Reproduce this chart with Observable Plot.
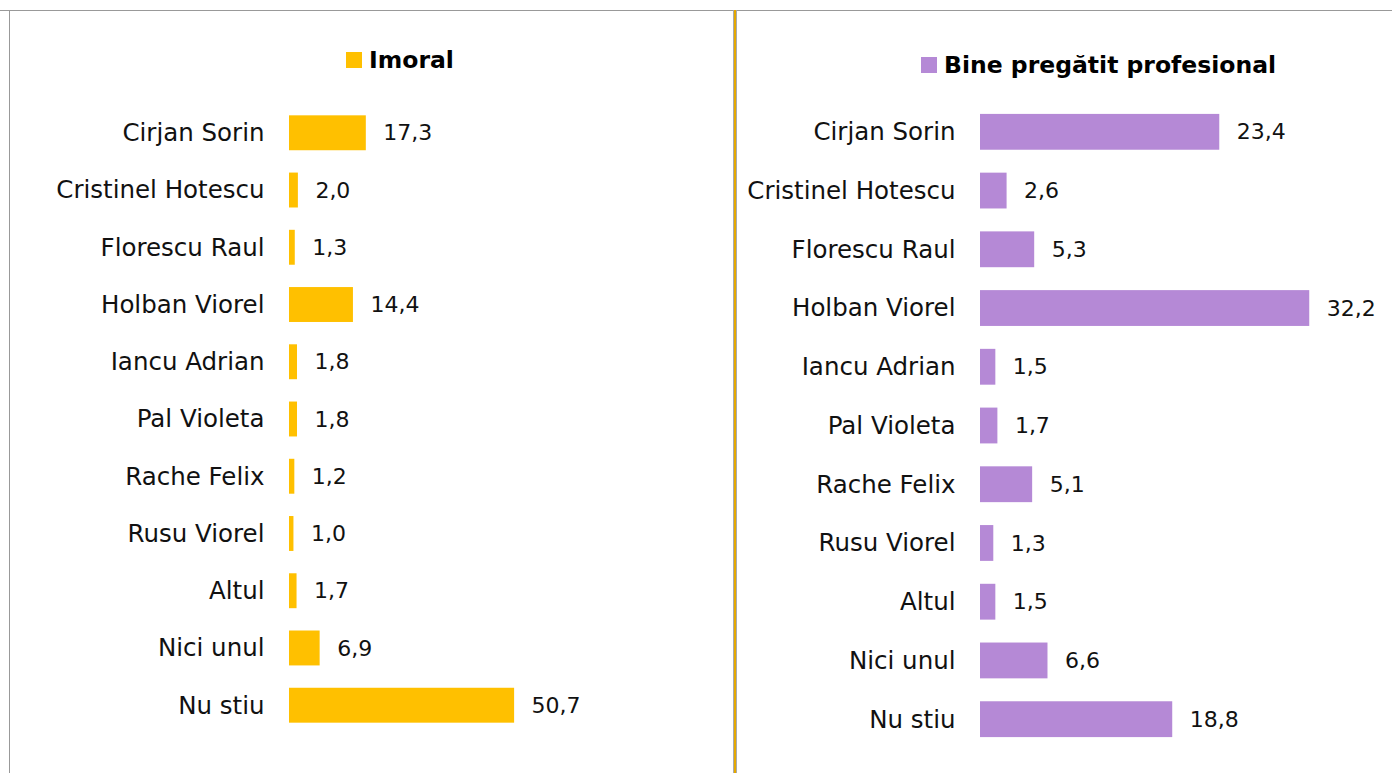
<!DOCTYPE html>
<html>
<head>
<meta charset="utf-8">
<script src="https://cdn.jsdelivr.net/npm/d3@7"></script>
<script src="https://cdn.jsdelivr.net/npm/@observablehq/plot@0.6"></script>
<style>
  html, body { margin: 0; padding: 0; background: #fff; }
  body { width: 1392px; height: 773px; position: relative; overflow: hidden; font-family: "DejaVu Sans", sans-serif; }
  .abs { position: absolute; }
  .legend { position: absolute; display: flex; align-items: center; font-weight: bold; font-size: 23.5px; color: #000; white-space: nowrap; }
  .legend .sw { width: 16px; height: 16px; margin-right: 7px; }
</style>
</head>
<body>
<div class="abs" style="left:0;top:10px;width:1392px;height:1px;background:#999"></div>
<div class="abs" style="left:9px;top:10px;width:1px;height:763px;background:#999"></div>
<div class="abs" style="left:733px;top:10px;width:1px;height:763px;background:#aaa"></div>
<div class="abs" style="left:734px;top:10px;width:2px;height:763px;background:#E5A800"></div>
<div class="abs" style="left:736px;top:10px;width:1px;height:763px;background:#aaa"></div>
<div id="left" class="abs" style="left:10px;top:11px"></div>
<div id="right" class="abs" style="left:738px;top:11px"></div>
<div class="legend" style="left:346px;top:45px;height:30px"><div class="sw" style="background:#FFC000"></div>Imoral</div>
<div class="legend" style="left:921px;top:50px;height:30px"><div class="sw" style="background:#B589D6"></div>Bine pregătit profesional</div>
<script>
const categories = ["Cirjan Sorin","Cristinel Hotescu","Florescu Raul","Holban Viorel","Iancu Adrian","Pal Violeta","Rache Felix","Rusu Viorel","Altul","Nici unul","Nu stiu"];
const imoral = [17.3, 2.0, 1.3, 14.4, 1.8, 1.8, 1.2, 1.0, 1.7, 6.9, 50.7];
const pregatit = [23.4, 2.6, 5.3, 32.2, 1.5, 1.7, 5.1, 1.3, 1.5, 6.6, 18.8];

const fmt = v => v.toFixed(1).replace(".", ",");

function chart(values, color, opts) {
  const data = categories.map((c, i) => ({cat: c, v: values[i]}));
  return Plot.plot({
    width: opts.width,
    height: opts.height,
    marginLeft: opts.marginLeft,
    marginRight: opts.marginRight,
    marginTop: opts.marginTop,
    marginBottom: opts.marginBottom,
    style: {fontFamily: "'DejaVu Sans', sans-serif", fontSize: "24.5px", color: "#111", background: "transparent"},
    x: {domain: [0, opts.xmax], axis: null},
    y: {domain: categories, padding: 0.39, round: false, label: null, tickSize: 0, tickPadding: 25},
    marks: [
      Plot.barX(data, {x: "v", y: "cat", fill: color}),
      Plot.text(data, {x: "v", y: "cat", text: d => fmt(d.v), textAnchor: "start", dx: 17, fill: "#111", fontSize: 22})
    ]
  });
}

document.getElementById("left").appendChild(chart(imoral, "#FFC000", {width: 723, height: 762, marginLeft: 279, marginRight: 0, marginTop: 82, marginBottom: 28, xmax: 100}));
document.getElementById("right").appendChild(chart(pregatit, "#B589D6", {width: 654, height: 762, marginLeft: 242, marginRight: 3, marginTop: 80, marginBottom: 13, xmax: 40}));
</script>
</body>
</html>
